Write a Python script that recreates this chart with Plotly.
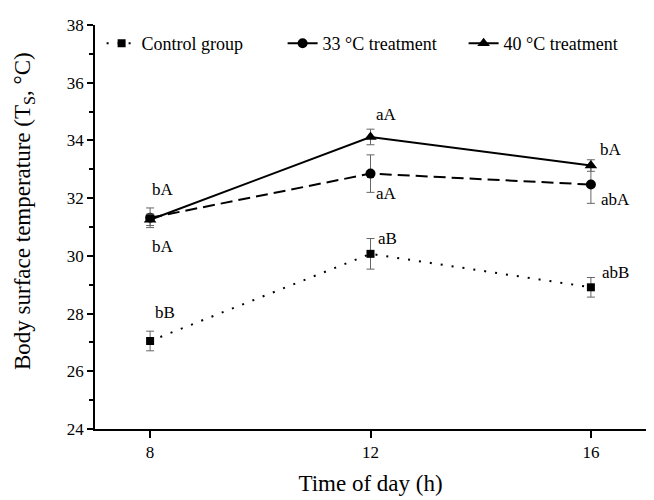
import plotly.graph_objects as go

hours = [8, 12, 16]

control_vals = [27.05, 30.07, 28.91]
control_err = [0.34, 0.53, 0.34]
t33_vals = [31.32, 32.85, 32.47]
t33_err = [0.34, 0.65, 0.65]
t40_vals = [31.25, 34.12, 33.13]
t40_err = [0.2, 0.27, 0.2]

control_letters = ["bB", "aB", "abB"]
t33_letters = ["bA", "aA", "abA"]
t40_letters = ["bA", "aA", "bA"]

series_names = ["Control group", "33 °C treatment", "40 °C treatment"]
x_title = "Time of day (h)"
y_title = "Body surface temperature (T<sub>S</sub>, °C)"

FONT = "Liberation Serif"

fig = go.Figure()

specs = [
    (series_names[0], control_vals, control_err, "2px,9px", "square", 8),
    (series_names[1], t33_vals, t33_err, "12px,6px", "circle", 10),
    (series_names[2], t40_vals, t40_err, "solid", "triangle-up", 11),
]
for name, vals, err, dash, sym, ms in specs:
    fig.add_trace(go.Scatter(
        x=hours, y=vals, name=name, mode="lines+markers",
        line=dict(color="black", width=2, dash=dash),
        marker=dict(symbol=sym, size=ms, color="black"),
        error_y=dict(type="data", array=err, visible=True, color="#666666",
                     thickness=1, width=4),
    ))

# label offsets in pixels (dx, dy) relative to the marker
offsets = {
    "control": [(15, 28), (17, 15), (25, 15)],
    "t33": [(13, -29), (16, -20), (25, -15)],
    "t40": [(13, 30), (16, 22), (20, 16)],
}
for key, vals, letters in [("control", control_vals, control_letters),
                           ("t33", t33_vals, t33_letters),
                           ("t40", t40_vals, t40_letters)]:
    for i, (h, v, lab) in enumerate(zip(hours, vals, letters)):
        dx, dy = offsets[key][i]
        fig.add_annotation(x=h, y=v, text=lab, showarrow=False,
                           xshift=dx, yshift=dy, xanchor="center",
                           yanchor="middle",
                           font=dict(family=FONT, size=17, color="black"))

# y-axis title (placed as rotated text to match the reference position)
fig.add_annotation(xref="paper", yref="paper", x=0, y=0.5, xshift=-71, yshift=16,
                   text=y_title, textangle=-90, showarrow=False,
                   xanchor="center", yanchor="middle",
                   font=dict(family=FONT, size=23, color="black"))

fig.update_layout(
    width=646, height=492,
    margin=dict(l=87, r=8, t=14, b=70),
    plot_bgcolor="white", paper_bgcolor="white",
    font=dict(family=FONT, size=16, color="black"),
    showlegend=True,
    legend=dict(orientation="h", x=0.012, y=1.0, xanchor="left", yanchor="top",
                font=dict(family=FONT, size=18, color="black"),
                bgcolor="rgba(0,0,0,0)", entrywidth=136, entrywidthmode="pixels"),
    xaxis=dict(range=[7, 17], tickvals=hours, ticktext=[str(h) for h in hours],
               showgrid=False, zeroline=False, showline=True, linecolor="black",
               linewidth=1.5, ticks="outside", ticklen=7, tickwidth=1.5,
               tickcolor="black", tickfont=dict(family=FONT, size=17),
               title=dict(text=x_title, font=dict(family=FONT, size=23),
                          standoff=14)),
    yaxis=dict(range=[24, 38], tickvals=list(range(24, 39, 2)),
               showgrid=False, zeroline=False, showline=True, linecolor="black",
               linewidth=1.5, ticks="outside", ticklen=6, tickwidth=1.5,
               tickcolor="black", tickfont=dict(family=FONT, size=17),
               minor=dict(tickvals=list(range(25, 38, 2)), ticks="outside",
                          ticklen=4, tickwidth=1.5, tickcolor="black", showgrid=False)),
)

fig.write_html("out.html")
